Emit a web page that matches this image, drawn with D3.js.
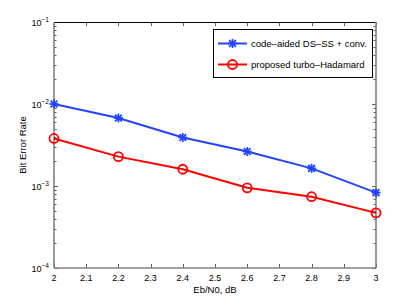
<!DOCTYPE html>
<html lang="en">
  <head>
    <meta charset="UTF-8" />
    <title>BER vs Eb/N0</title>
    <style>
      body { margin: 0; background: #fff; }
      svg text { font-family: "Liberation Sans", Arial, sans-serif; }
    </style>
  </head>
  <body>
    <div id="chart"></div>

    <script src="https://cdn.jsdelivr.net/npm/d3@7/dist/d3.min.js"></script>
    <script>

      // values
      var ebno = [2, 2.2, 2.4, 2.6, 2.8, 3];
      var berConv = [1.0e-2, 6.75e-3, 3.9e-3, 2.63e-3, 1.64e-3, 8.3e-4];
      var berTurbo = [3.8e-3, 2.28e-3, 1.6e-3, 9.5e-4, 7.4e-4, 4.7e-4];
      var seriesNames = ["code\u2013aided DS\u2013SS + conv.", "proposed turbo\u2013Hadamard"];
      var xTicks = [2, 2.1, 2.2, 2.3, 2.4, 2.5, 2.6, 2.7, 2.8, 2.9, 3];
      var yExps = [-1, -2, -3, -4];

      var w = 415,
          h = 303;
      var margin = { top: 22, right: 39, bottom: 35, left: 54 };

      var svg = d3.select("#chart").append("svg")
                  .attr("width", w)
                  .attr("height", h);

      var xScale = d3.scaleLinear()
                     .domain([2, 3])
                     .range([margin.left, w - margin.right]);
      var yScale = d3.scaleLog()
                     .domain([1e-4, 1e-1])
                     .range([h - margin.bottom, margin.top]);

      var x0 = margin.left, x1 = w - margin.right;
      var y0 = h - margin.bottom, y1 = margin.top;

      // minor ticks on the log axis
      var minor = [];
      for (var e = -4; e < -1; e++) {
        for (var m = 2; m <= 9; m++) minor.push(m * Math.pow(10, e));
      }

      var ticks = svg.append("g").attr("stroke", "#333").attr("stroke-width", 0.8);
      minor.forEach(function(v) {
        var y = Math.round(yScale(v)) + 0.5;
        ticks.append("line").attr("x1", x0).attr("x2", x0 + 2.5).attr("y1", y).attr("y2", y);
        ticks.append("line").attr("x1", x1).attr("x2", x1 - 2.5).attr("y1", y).attr("y2", y);
      });
      yExps.forEach(function(e) {
        var y = Math.round(yScale(Math.pow(10, e))) + 0.5;
        ticks.append("line").attr("x1", x0).attr("x2", x0 + 4).attr("y1", y).attr("y2", y);
        ticks.append("line").attr("x1", x1).attr("x2", x1 - 4).attr("y1", y).attr("y2", y);
      });
      xTicks.forEach(function(v) {
        var x = Math.round(xScale(v)) + 0.5;
        ticks.append("line").attr("x1", x).attr("x2", x).attr("y1", y0).attr("y2", y0 - 4);
        ticks.append("line").attr("x1", x).attr("x2", x).attr("y1", y1).attr("y2", y1 + 4);
      });

      // box
      svg.append("line").attr("x1", x0).attr("x2", x1).attr("y1", y1 + 0.5).attr("y2", y1 + 0.5)
         .attr("stroke", "#000").attr("stroke-width", 1);
      svg.append("line").attr("x1", x0).attr("x2", x0).attr("y1", y1).attr("y2", y0)
         .attr("stroke", "#808080").attr("stroke-width", 1.6);
      svg.append("line").attr("x1", x1).attr("x2", x1).attr("y1", y1).attr("y2", y0)
         .attr("stroke", "#808080").attr("stroke-width", 1.6);
      svg.append("line").attr("x1", x0).attr("x2", x1).attr("y1", y0).attr("y2", y0)
         .attr("stroke", "#808080").attr("stroke-width", 1.6);

      // tick labels
      svg.selectAll(".xlab")
         .data(xTicks)
         .enter()
         .append("text")
         .attr("class", "xlab")
         .attr("x", function(d) { return xScale(d); })
         .attr("y", y0 + 13)
         .attr("text-anchor", "middle")
         .attr("font-size", 9)
         .attr("fill", "#000")
         .text(function(d) { return d; });

      var ylab = svg.selectAll(".ylab")
         .data(yExps)
         .enter()
         .append("text")
         .attr("class", "ylab")
         .attr("x", x0 - 5)
         .attr("y", function(d) { return yScale(Math.pow(10, d)) + 3.5; })
         .attr("text-anchor", "end")
         .attr("font-size", 9)
         .attr("fill", "#000");
      ylab.append("tspan").text("10");
      ylab.append("tspan")
          .attr("dy", -4)
          .attr("font-size", 6.5)
          .text(function(d) { return "\u2212" + (-d); });

      svg.append("text")
         .attr("x", (x0 + x1) / 2)
         .attr("y", y0 + 25)
         .attr("text-anchor", "middle")
         .attr("font-size", 9.5)
         .text("Eb/N0, dB");
      svg.append("text")
         .attr("transform", "translate(26," + ((y0 + y1) / 2) + ")rotate(-90)")
         .attr("text-anchor", "middle")
         .attr("font-size", 9.5)
         .text("Bit Error Rate");

      // lines
      var line = d3.line()
                   .x(function(d) { return xScale(d[0]); })
                   .y(function(d) { return yScale(d[1]); });

      var blue = "#2244ff", red = "#ff0000";
      var convData = d3.zip(ebno, berConv);
      var turboData = d3.zip(ebno, berTurbo);

      function star(g, x, y, c) {
        var r = 4.5, d = r * 0.75;
        var s = g.append("g").attr("stroke", c).attr("stroke-width", 1.8);
        s.append("line").attr("x1", x - r).attr("x2", x + r).attr("y1", y).attr("y2", y);
        s.append("line").attr("x1", x).attr("x2", x).attr("y1", y - r).attr("y2", y + r);
        s.append("line").attr("x1", x - d).attr("x2", x + d).attr("y1", y - d).attr("y2", y + d);
        s.append("line").attr("x1", x - d).attr("x2", x + d).attr("y1", y + d).attr("y2", y - d);
      }
      function circ(g, x, y, c) {
        g.append("circle").attr("cx", x).attr("cy", y).attr("r", 4.5)
         .attr("fill", "none").attr("stroke", c).attr("stroke-width", 1.8);
      }

      svg.append("path").datum(convData)
         .attr("d", line).attr("fill", "none").attr("stroke", blue).attr("stroke-width", 2);
      svg.append("path").datum(turboData)
         .attr("d", line).attr("fill", "none").attr("stroke", red).attr("stroke-width", 2);

      var marks = svg.append("g");
      convData.forEach(function(d) { star(marks, xScale(d[0]), yScale(d[1]), blue); });
      turboData.forEach(function(d) { circ(marks, xScale(d[0]), yScale(d[1]), red); });

      // legend
      var lg = svg.append("g").attr("transform", "translate(213,29)");
      lg.append("rect").attr("x", 0.5).attr("y", 0.5).attr("width", 159).attr("height", 48)
        .attr("fill", "#fff").attr("stroke", "#000").attr("stroke-width", 1);
      var rows = [
        { name: seriesNames[0], color: blue, mark: star, y: 14.5 },
        { name: seriesNames[1], color: red, mark: circ, y: 35.5 }
      ];
      rows.forEach(function(r) {
        lg.append("line").attr("x1", 5).attr("x2", 34).attr("y1", r.y).attr("y2", r.y)
          .attr("stroke", r.color).attr("stroke-width", 2);
        r.mark(lg, 19.5, r.y, r.color);
        lg.append("text").attr("x", 38).attr("y", r.y + 3.5)
          .attr("font-size", 9.5).text(r.name);
      });

    </script>
  </body>
</html>
